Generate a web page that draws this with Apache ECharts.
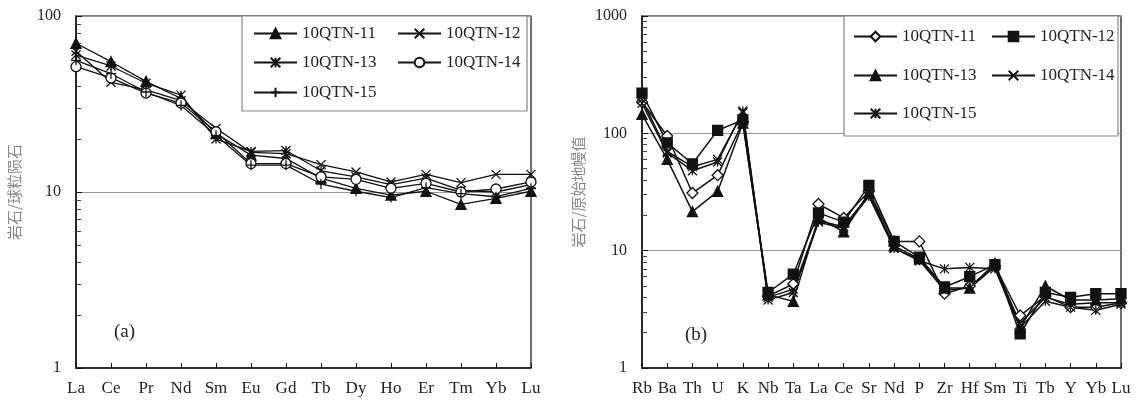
<!DOCTYPE html>
<html>
<head>
<meta charset="utf-8">
<script src="https://cdn.jsdelivr.net/npm/echarts@6/dist/echarts.min.js"></script>
<style>
html,body{margin:0;padding:0;background:#fff;}
#main{width:1142px;height:401px;}
</style>
</head>
<body>
<div id="main"></div>
<script>
// ---------- data ----------
const reeCats = ['La','Ce','Pr','Nd','Sm','Eu','Gd','Tb','Dy','Ho','Er','Tm','Yb','Lu'];
const traceCats = ['Rb','Ba','Th','U','K','Nb','Ta','La','Ce','Sr','Nd','P','Zr','Hf','Sm','Ti','Tb','Y','Yb','Lu'];
const sampleNames = ['10QTN-11','10QTN-12','10QTN-13','10QTN-14','10QTN-15'];

// (a) chondrite-normalized REE
const reeQTN11 = [70, 55, 42.5, 34, 21.5, 16.2, 15.5, 12.0, 10.5, 9.6, 10.1, 8.5, 9.2, 10.1];
const reeQTN12 = [63, 42, 38, 33, 23, 16.8, 16.5, 14.3, 13.0, 11.4, 12.6, 11.3, 12.6, 12.6];
const reeQTN13 = [60, 52, 41.5, 35.5, 20, 17, 17.2, 13.2, 12.2, 11.0, 12.0, 10.2, 10.0, 11.0];
const reeQTN14 = [51.5, 44.5, 36.5, 32, 22, 14.5, 14.5, 12.2, 11.8, 10.5, 11.2, 10.0, 10.4, 11.4];
const reeQTN15 = [56, 47, 37, 31, 21, 14.2, 14.2, 11.1, 10.1, 9.3, 10.6, 9.8, 9.4, 10.5];

// (b) primitive-mantle-normalized trace elements
const trQTN11 = [185, 95, 31, 44, 125, 4.1, 5.2, 25, 19, 32, 12, 12, 4.3, 5.0, 7.4, 2.8, 4.1, 3.3, 3.3, 3.6];
const trQTN12 = [220, 83, 55, 106, 130, 4.4, 6.3, 21, 17.5, 36, 12, 8.8, 4.9, 6.0, 7.6, 1.95, 4.4, 4.0, 4.3, 4.3];
const trQTN13 = [145, 60, 21.5, 32, 122, 4.2, 3.7, 19, 14.5, 31, 11, 8.5, 4.8, 4.8, 7.8, 2.2, 5.0, 3.8, 3.8, 3.9];
const trQTN14 = [195, 70, 52, 60, 150, 4.0, 4.7, 18, 16, 30, 10.5, 8.3, 4.6, 4.8, 7.3, 2.4, 4.0, 3.5, 3.6, 3.6];
const trQTN15 = [180, 68, 48, 57, 155, 3.8, 4.4, 17.5, 15.5, 29, 10.5, 8.2, 7.0, 7.2, 7.0, 2.2, 3.7, 3.3, 3.1, 3.5];

const yTicksA = [1, 10, 100];
const yTicksB = [1, 10, 100, 1000];
const minorA = [2,3,4,5,6,7,8,9,20,30,40,50,60,70,80,90];
const minorB = [2,3,4,5,6,7,8,9,20,30,40,50,60,70,80,90,200,300,400,500,600,700,800,900];

// ---------- styles ----------
const SERIF = '"Liberation Serif","DejaVu Serif",serif';
const CJK = '"Noto Sans CJK SC","Noto Sans",sans-serif';
const SYM = {
  tri: 'triangle',
  x: 'path://M0,0L10,10M10,0L0,10',
  star: 'path://M0,0L10,10M10,0L0,10M5,0L5,10',
  plus: 'path://M5,0L5,10M0,5L10,5',
  circle: 'circle',
  diamond: 'diamond',
  rect: 'rect'
};

function mkSeries(name, data, sym, size, fill, xi, yi, lw) {
  return {
    type: 'line', name: name, data: data,
    xAxisIndex: xi, yAxisIndex: yi,
    symbol: SYM[sym], symbolSize: size,
    showSymbol: true,
    lineStyle: {color: '#111', width: lw},
    itemStyle: {color: fill, borderColor: '#111', borderWidth: 1.3},
    emphasis: {disabled: true},
    animation: false,
    z: 3
  };
}

const seriesA = [
  mkSeries(sampleNames[0], reeQTN11, 'tri', 10, '#111', 0, 0, 1.3),
  mkSeries(sampleNames[1], reeQTN12, 'x', 9, '#111', 0, 0, 1.3),
  mkSeries(sampleNames[2], reeQTN13, 'star', 9, '#111', 0, 0, 1.3),
  mkSeries(sampleNames[3], reeQTN14, 'circle', 10, '#fff', 0, 0, 1.3),
  mkSeries(sampleNames[4], reeQTN15, 'plus', 10, '#111', 0, 0, 1.3)
];
const bNames = sampleNames.map(n => n + ' ');
const seriesB = [
  mkSeries(bNames[0], trQTN11, 'diamond', 11, '#fff', 1, 2, 1.5),
  mkSeries(bNames[1], trQTN12, 'rect', 10, '#111', 1, 2, 1.5),
  mkSeries(bNames[2], trQTN13, 'tri', 10, '#111', 1, 2, 1.5),
  mkSeries(bNames[3], trQTN14, 'x', 9, '#111', 1, 2, 1.5),
  mkSeries(bNames[4], trQTN15, 'star', 9, '#111', 1, 2, 1.5)
];

function mkLegend(name, left, cy) {
  return {
    data: [name], left: left, top: cy - 9, padding: 0,
    itemWidth: 43, itemHeight: 12, selectedMode: false,
    formatter: n => n.trim(),
    textStyle: {fontFamily: SERIF, fontSize: 17, color: '#222'},
    z: 10
  };
}

const legends = [
  mkLegend(sampleNames[0], 253, 34), mkLegend(sampleNames[1], 397, 34),
  mkLegend(sampleNames[2], 253, 63), mkLegend(sampleNames[3], 397, 63),
  mkLegend(sampleNames[4], 253, 93),
  mkLegend(bNames[0], 853, 37), mkLegend(bNames[1], 991, 37),
  mkLegend(bNames[2], 853, 76), mkLegend(bNames[3], 991, 76),
  mkLegend(bNames[4], 853, 114)
];

function xAx(cats, gi) {
  return {
    type: 'category', data: cats, gridIndex: gi, boundaryGap: false,
    axisLine: {lineStyle: {color: '#111', width: 1.5}},
    axisTick: {inside: true, length: 5, lineStyle: {color: '#111'}},
    axisLabel: {fontFamily: SERIF, fontSize: 17, color: '#222', margin: 12, interval: 0},
    splitLine: {show: false}
  };
}
function yLog(gi, max, title, gap) {
  return {
    type: 'log', logBase: 10, min: 1, max: max, gridIndex: gi,
    name: title, nameLocation: 'middle', nameGap: gap, nameRotate: 90,
    nameTextStyle: {fontFamily: CJK, fontSize: 15, color: '#888'},
    axisLine: {show: true, lineStyle: {color: '#111', width: 1.5}},
    axisTick: {show: true, inside: true, length: 6, lineStyle: {color: '#111'}},
    axisLabel: {fontFamily: SERIF, fontSize: 16, color: '#222', margin: 15, formatter: v => String(v)},
    splitLine: {show: true, lineStyle: {color: '#999', width: 1}},
    minorTick: {show: false}
  };
}
function yMinor(gi, decades, minors) {
  return {
    type: 'value', min: 0, max: decades, gridIndex: gi, position: 'left',
    axisLine: {show: true, lineStyle: {color: 'rgba(0,0,0,0)'}},
    axisTick: {show: true, inside: true, length: 5, customValues: minors.map(v => Math.log10(v)),
      lineStyle: {color: '#444', width: 1}},
    axisLabel: {show: false},
    splitLine: {show: false}
  };
}

const option = {
  backgroundColor: '#fff',
  animation: false,
  grid: [
    {left: 76, right: 611, top: 16, bottom: 33, show: true, borderColor: '#111', borderWidth: 1.2, backgroundColor: 'transparent'},
    {left: 642, right: 21, top: 16, bottom: 33, show: true, borderColor: '#111', borderWidth: 1.2, backgroundColor: 'transparent'}
  ],
  xAxis: [xAx(reeCats, 0), xAx(traceCats, 1)],
  yAxis: [
    yLog(0, yTicksA[yTicksA.length - 1], '岩石/球粒陨石', 54),
    yMinor(0, 2, minorA),
    yLog(1, yTicksB[yTicksB.length - 1], '岩石/原始地幔值', 56),
    yMinor(1, 3, minorB)
  ],
  legend: legends,
  graphic: [
    {type: 'rect', shape: {x: 242, y: 16, width: 285, height: 95}, style: {fill: '#fff', stroke: '#888', lineWidth: 1.2}, z: 5},
    {type: 'rect', shape: {x: 844, y: 16, width: 274, height: 120}, style: {fill: '#fff', stroke: '#888', lineWidth: 1.2}, z: 5},
    {type: 'text', left: 114, top: 323, style: {text: '(a)', font: '19px ' + SERIF, fill: '#222'}, z: 6},
    {type: 'text', left: 685, top: 326, style: {text: '(b)', font: '19px ' + SERIF, fill: '#222'}, z: 6}
  ],
  series: seriesA.concat(seriesB)
};

const chart = echarts.init(document.getElementById('main'), null, {renderer: 'canvas'});
chart.setOption(option);
</script>
</body>
</html>
